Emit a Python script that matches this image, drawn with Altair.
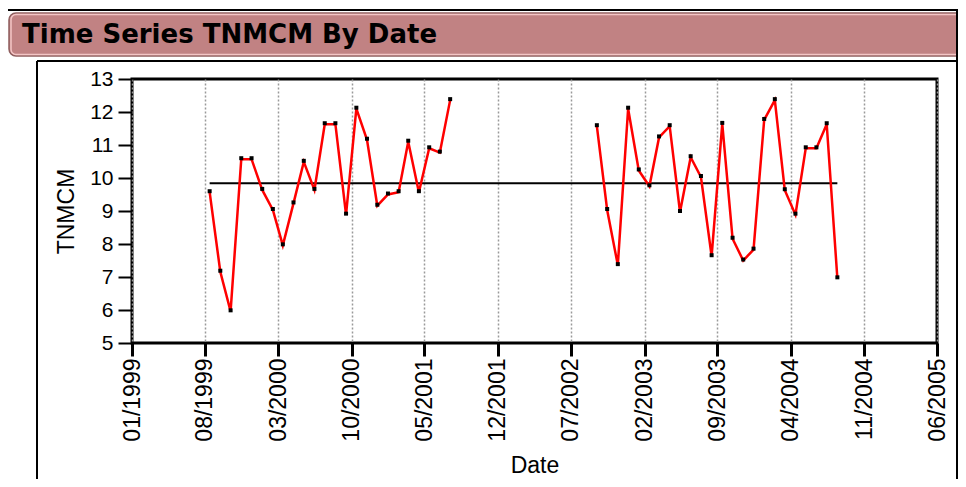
import altair as alt
import pandas as pd

TITLE = "Time Series TNMCM By Date"
X_TITLE = "Date"
Y_TITLE = "TNMCM"

# first run of monthly observations
months_1 = ["1999-08", "1999-09", "1999-10", "1999-11", "1999-12",
            "2000-01", "2000-02", "2000-03", "2000-04", "2000-05", "2000-06",
            "2000-07", "2000-08", "2000-09", "2000-10", "2000-11", "2000-12",
            "2001-01", "2001-02", "2001-03", "2001-04", "2001-05", "2001-06",
            "2001-07"]
values_1 = [9.60, 7.19, 5.99, 10.60, 10.60,
            9.67, 9.06, 7.99, 9.26, 10.52, 9.67,
            11.66, 11.66, 8.92, 12.13, 11.19, 9.19,
            9.53, 9.60, 11.13, 9.60, 10.93, 10.80,
            12.39]

# second run of monthly observations
months_2 = ["2002-09", "2002-10", "2002-11", "2002-12",
            "2003-01", "2003-02", "2003-03", "2003-04", "2003-05", "2003-06",
            "2003-07", "2003-08", "2003-09", "2003-10", "2003-11", "2003-12",
            "2004-01", "2004-02", "2004-03", "2004-04", "2004-05", "2004-06",
            "2004-07", "2004-08"]
values_2 = [11.60, 9.06, 7.39, 12.13,
            10.26, 9.78, 11.26, 11.60, 9.00, 10.66,
            10.06, 7.66, 11.67, 8.19, 7.53, 7.86,
            11.79, 12.39, 9.66, 8.92, 10.93, 10.93,
            11.66, 6.99]

REF_LEVEL = 9.84

X_TICKS = ["1999-01", "1999-08", "2000-03", "2000-10", "2001-05", "2001-12",
           "2002-07", "2003-02", "2003-09", "2004-04", "2004-11", "2005-06"]
Y_TICKS = [5, 6, 7, 8, 9, 10, 11, 12, 13]

df = pd.DataFrame({
    "Date": pd.to_datetime([m + "-15" for m in months_1 + months_2]),
    "TNMCM": values_1 + values_2,
    "run": ["first"] * len(months_1) + ["second"] * len(months_2),
})
ref_df = pd.DataFrame({
    "Date": [df["Date"].iloc[0]],
    "end": [df["Date"].iloc[-1]],
    "TNMCM": [REF_LEVEL],
})


def dt(s):
    y, m = s.split("-")
    return alt.DateTime(year=int(y), month=int(m), date=1)


FONT = "Liberation Sans"

x_axis = alt.Axis(
    values=[dt(s) for s in X_TICKS], format="%m/%Y",
    labelAngle=270, labelAlign="right", labelBaseline="middle",
    labelFont=FONT, labelFontSize=23, labelColor="black", labelPadding=2,
    labelOverlap=False, labelFlush=False,
    tickSize=13, tickWidth=3, tickColor="black",
    domain=False,
    grid=True, gridColor="#9a9a9a", gridDash=[2, 2], gridWidth=1.5,
    title=X_TITLE, titleFont=FONT, titleFontSize=23, titleFontWeight="normal",
    titleColor="black", titleY=129, titleBaseline="alphabetic",
)
y_axis = alt.Axis(
    values=Y_TICKS, tickCount=len(Y_TICKS), labelOverlap=False, labelFlush=False,
    labelFont=FONT, labelFontSize=21, labelColor="black", labelPadding=5,
    tickSize=14, tickWidth=2, tickColor="black",
    domain=False, grid=False,
    title=Y_TITLE, titleFont=FONT, titleFontSize=23, titleFontWeight="normal",
    titleColor="black", titleAngle=270, titleX=-59, titleY=132,
    titleAlign="center", titleBaseline="alphabetic",
)
x_scale = alt.Scale(domain=[dt(X_TICKS[0]), dt(X_TICKS[-1])], nice=False)
y_scale = alt.Scale(domain=[Y_TICKS[0], Y_TICKS[-1]], nice=False, zero=False)


def xenc(field="Date"):
    return alt.X(field + ":T", scale=x_scale, axis=x_axis)


def yenc():
    return alt.Y("TNMCM:Q", scale=y_scale, axis=y_axis)


base = alt.Chart(df)
ref = alt.Chart(ref_df).mark_rule(color="black", strokeWidth=2).encode(
    x=xenc(), x2="end:T", y=yenc())
line = base.mark_line(color="#FF0000", strokeWidth=2.5, yOffset=1).encode(
    x=xenc(), y=yenc(), detail="run:N")
pts = base.mark_square(color="black", size=16, opacity=1).encode(
    x=xenc(), y=yenc())

one = alt.Data(values=[{"k": 0}])


def hrule(x1, x2, y, w=2):
    return alt.Chart(one).mark_rule(color="black", strokeWidth=w).encode(
        x=alt.value(x1), x2=alt.value(x2), y=alt.value(y))


def vrule(x, y1, y2, w=2):
    return alt.Chart(one).mark_rule(color="black", strokeWidth=w).encode(
        x=alt.value(x), y=alt.value(y1), y2=alt.value(y2))


bar = alt.Chart(one).mark_rect(
    fill="#C18283", stroke="#8E5E5E", strokeWidth=1.5, cornerRadius=7).encode(
    x=alt.value(-123), x2=alt.value(860), y=alt.value(-66), y2=alt.value(-23))
bar_hi = alt.Chart(one).mark_rect(
    fill="#C18283", fillOpacity=0, stroke="#F4C6C6", strokeWidth=1.5, cornerRadius=5).encode(
    x=alt.value(-121), x2=alt.value(860), y=alt.value(-64.5), y2=alt.value(-24.5))
title_txt = alt.Chart(pd.DataFrame({"t": [TITLE]})).mark_text(
    align="left", baseline="alphabetic", font="DejaVu Sans", fontSize=26,
    fontWeight="bold", color="black").encode(
    x=alt.value(-110), y=alt.value(-36), text="t:N")

deco = [
    bar, bar_hi, title_txt,
    hrule(-124, 826, -69),
    vrule(825, -69, 410),
    hrule(-95, 826, -18),
    vrule(-95, -18, 410),
]

chart = alt.layer(ref, line, pts, *deco).properties(
    width=805, height=264,
    autosize=alt.AutoSizeParams(type="none"),
    padding={"left": 124, "top": 71, "right": 21, "bottom": 136},
    background="white",
).configure_view(stroke="black", strokeWidth=3)

chart.save("out.html", embed_options={"renderer": "svg", "actions": False})
